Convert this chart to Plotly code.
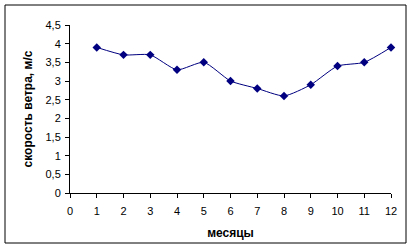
import plotly.graph_objects as go

months = [1, 2, 3, 4, 5, 6, 7, 8, 9, 10, 11, 12]
wind_speed = [3.9, 3.7, 3.7, 3.3, 3.5, 3.0, 2.8, 2.6, 2.9, 3.4, 3.5, 3.9]
x_title = "месяцы"
y_title = "скорость ветра, м/с"

fig = go.Figure()
fig.add_trace(go.Scatter(
    x=months, y=wind_speed, mode="lines+markers",
    line=dict(color="#000080", width=1, shape="spline", smoothing=0.6),
    marker=dict(symbol="diamond", size=6.5, color="#000080"),
    cliponaxis=False, showlegend=False,
))

L, R, T, B = 70, 25, 25, 57
pw, ph = 416 - L - R, 250 - T - B
fig.update_layout(
    width=416, height=250,
    margin=dict(l=L, r=R, t=T, b=B),
    paper_bgcolor="white", plot_bgcolor="white",
    separators=", ",
    font=dict(family="Liberation Sans, Arial", size=11, color="black"),
    xaxis=dict(range=[0, 12], dtick=1, tick0=0, showgrid=False, zeroline=False,
               showline=True, linecolor="black", linewidth=1,
               ticks="outside", ticklen=4, tickcolor="black",
               ticklabelstandoff=4,
               title=dict(text="<b>" + x_title + "</b>", standoff=12,
                          font=dict(size=12))),
    yaxis=dict(range=[0, 4.5], dtick=0.5, tick0=0, showgrid=False, zeroline=False,
               showline=True, linecolor="black", linewidth=1,
               ticks="outside", ticklen=4, tickcolor="black",
               ticklabelstandoff=2,
               title=dict(text="<b>" + y_title + "</b>", standoff=10,
                          font=dict(size=12))),
    shapes=[dict(type="rect", xref="paper", yref="paper",
                 x0=(5 - L) / pw, x1=(406 - L) / pw,
                 y0=(250 - B - 243) / ph, y1=(250 - B - 5) / ph,
                 line=dict(color="black", width=1))],
)
fig.write_html("out.html")
